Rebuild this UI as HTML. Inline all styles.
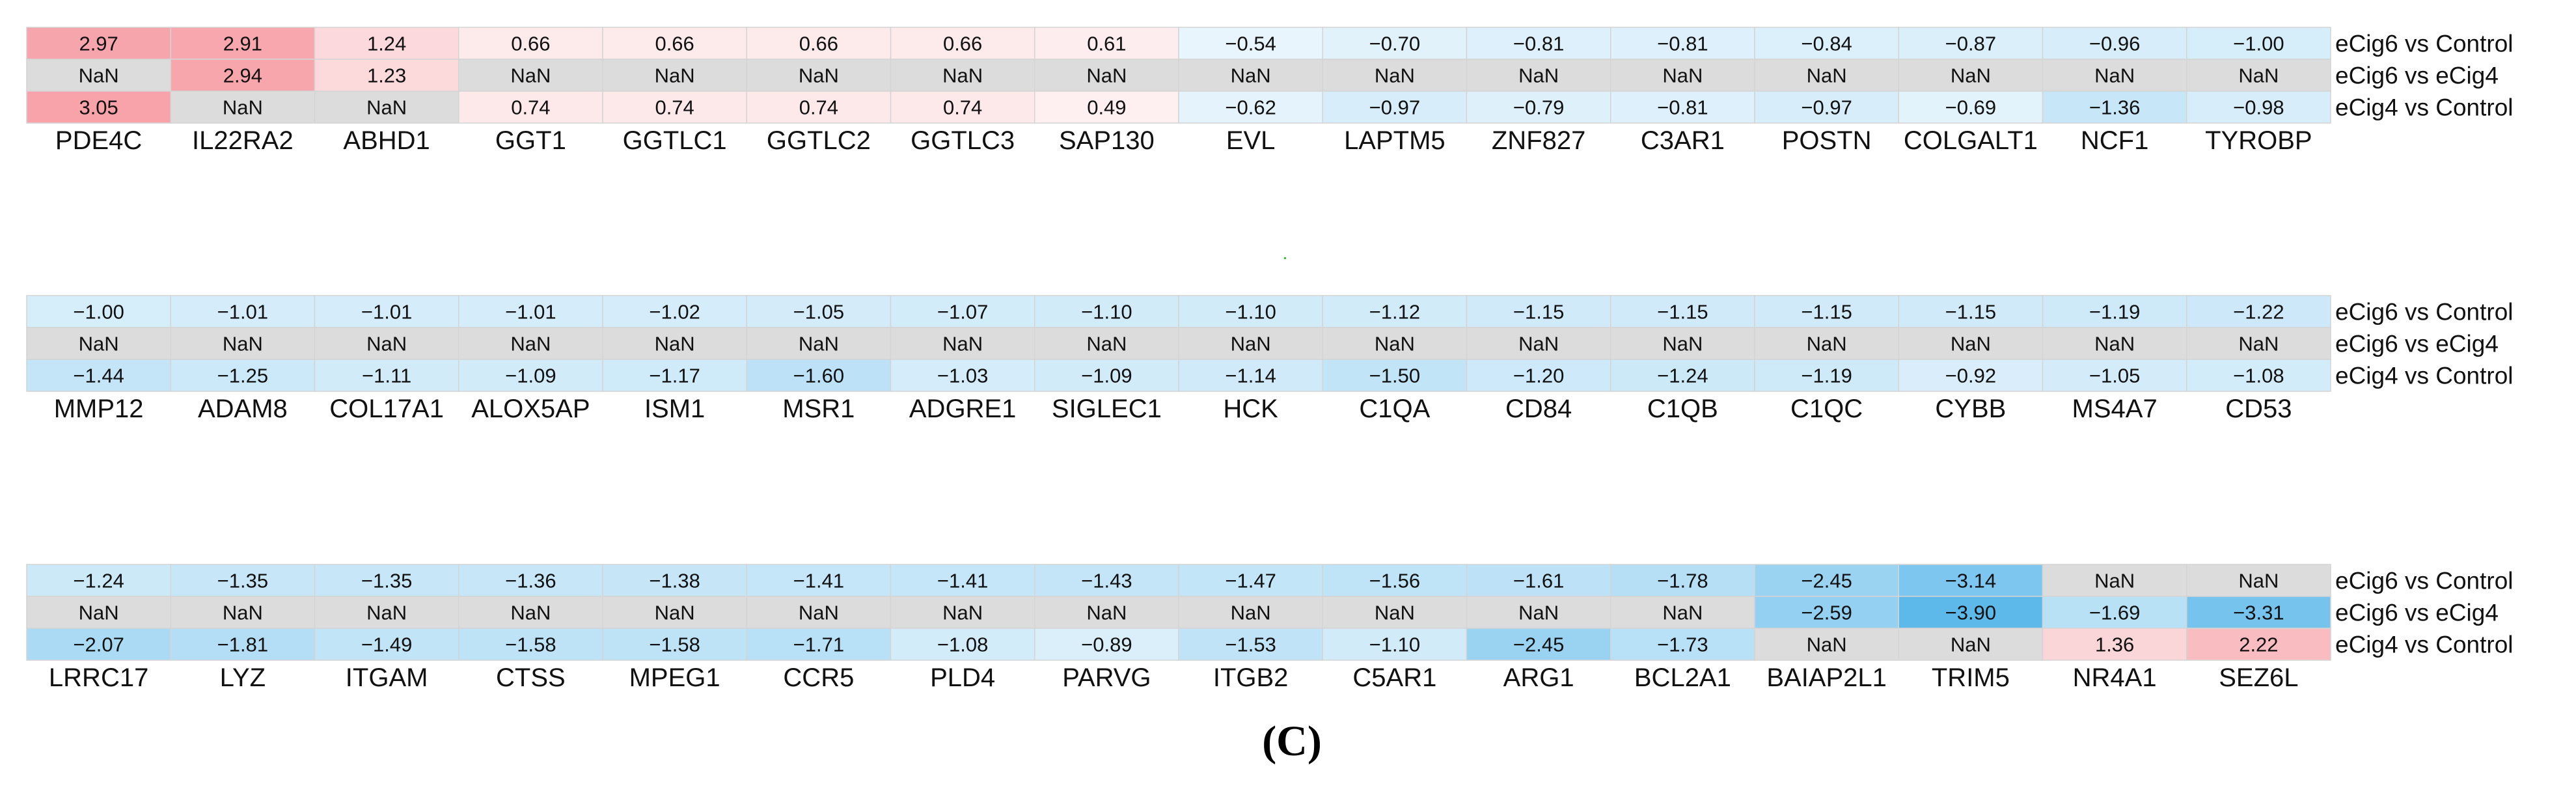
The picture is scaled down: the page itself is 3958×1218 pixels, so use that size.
<!DOCTYPE html>
<html><head><meta charset="utf-8"><style>
html,body{margin:0;padding:0;background:#fff;}
svg{display:block;}
</style></head><body>
<svg id="chart" width="3958" height="1218" viewBox="0 0 3958 1218" xmlns="http://www.w3.org/2000/svg">
<text x="1985" y="1160" text-anchor="middle" font-family="Liberation Serif, serif" font-size="66" font-weight="bold">(C)</text>
<rect x="1973" y="395" width="3" height="3" fill="#3c3"/>
</svg>
<script>
const rowLabels = ["eCig6 vs Control", "eCig6 vs eCig4", "eCig4 vs Control"];
const genes1 = ["PDE4C","IL22RA2","ABHD1","GGT1","GGTLC1","GGTLC2","GGTLC3","SAP130","EVL","LAPTM5","ZNF827","C3AR1","POSTN","COLGALT1","NCF1","TYROBP"];
const b1r1 = [2.97,2.91,1.24,0.66,0.66,0.66,0.66,0.61,-0.54,-0.70,-0.81,-0.81,-0.84,-0.87,-0.96,-1.00];
const b1r2 = [NaN,2.94,1.23,NaN,NaN,NaN,NaN,NaN,NaN,NaN,NaN,NaN,NaN,NaN,NaN,NaN];
const b1r3 = [3.05,NaN,NaN,0.74,0.74,0.74,0.74,0.49,-0.62,-0.97,-0.79,-0.81,-0.97,-0.69,-1.36,-0.98];
const genes2 = ["MMP12","ADAM8","COL17A1","ALOX5AP","ISM1","MSR1","ADGRE1","SIGLEC1","HCK","C1QA","CD84","C1QB","C1QC","CYBB","MS4A7","CD53"];
const b2r1 = [-1.00,-1.01,-1.01,-1.01,-1.02,-1.05,-1.07,-1.10,-1.10,-1.12,-1.15,-1.15,-1.15,-1.15,-1.19,-1.22];
const b2r2 = [NaN,NaN,NaN,NaN,NaN,NaN,NaN,NaN,NaN,NaN,NaN,NaN,NaN,NaN,NaN,NaN];
const b2r3 = [-1.44,-1.25,-1.11,-1.09,-1.17,-1.60,-1.03,-1.09,-1.14,-1.50,-1.20,-1.24,-1.19,-0.92,-1.05,-1.08];
const genes3 = ["LRRC17","LYZ","ITGAM","CTSS","MPEG1","CCR5","PLD4","PARVG","ITGB2","C5AR1","ARG1","BCL2A1","BAIAP2L1","TRIM5","NR4A1","SEZ6L"];
const b3r1 = [-1.24,-1.35,-1.35,-1.36,-1.38,-1.41,-1.41,-1.43,-1.47,-1.56,-1.61,-1.78,-2.45,-3.14,NaN,NaN];
const b3r2 = [NaN,NaN,NaN,NaN,NaN,NaN,NaN,NaN,NaN,NaN,NaN,NaN,-2.59,-3.90,-1.69,-3.31];
const b3r3 = [-2.07,-1.81,-1.49,-1.58,-1.58,-1.71,-1.08,-0.89,-1.53,-1.10,-2.45,-1.73,NaN,NaN,1.36,2.22];

const NS = "http://www.w3.org/2000/svg";
const svg = document.getElementById("chart");
const X0 = 41, CW = 221.25, RH = 49;
function xPos(i){ return X0 + i*CW; }
function color(v){
  if (isNaN(v)) return "#dcdcdc";
  let r,g,b,t;
  if (v >= 0){ t = Math.min(v/3.1,1); r=255-t*8; g=255-t*94; b=255-t*87; }
  else { t = Math.min(-v/4,1); r=255-t*165; g=255-t*72; b=255-t*21; }
  return "rgb("+Math.round(r)+","+Math.round(g)+","+Math.round(b)+")";
}
function fmt(v){ if (isNaN(v)) return "NaN"; return (v<0?"\u2212":"")+Math.abs(v).toFixed(2); }
function mk(tag, attrs){ const e=document.createElementNS(NS,tag); for(const k in attrs) e.setAttribute(k,attrs[k]); return e; }

function drawBlock(bi, top, genes, rows){
  const g = mk("g",{});
  
  
  svg.appendChild(g);
  rows.forEach((vals, r)=>{
    const y = top + r*RH;
    vals.forEach((v, i)=>{
      const rect = mk("rect",{x:xPos(i), y:y, width:CW, height:RH, fill:color(v), stroke:"#d4d4d4", "stroke-width":1.5});
      
      
      g.appendChild(rect);
      const t = mk("text",{x:xPos(i)+CW/2, y:y+RH/2+11, "text-anchor":"middle", "font-family":"Liberation Sans, sans-serif", "font-size":31, fill:"#111"});
      t.textContent = fmt(v);
      
      
      g.appendChild(t);
    });
    const lt = mk("text",{x:xPos(16)+7, y:y+RH/2+13, "font-family":"Liberation Sans, sans-serif", "font-size":37, fill:"#111"});
    lt.textContent = rowLabels[r];
    
    
    g.appendChild(lt);
  });
  genes.forEach((name, i)=>{
    const t = mk("text",{x:xPos(i)+CW/2, y:top+3*RH+40, "text-anchor":"middle", "font-family":"Liberation Sans, sans-serif", "font-size":40, fill:"#111"});
    t.textContent = name;
    
    
    g.appendChild(t);
  });
}
drawBlock(0, 42, genes1, [b1r1,b1r2,b1r3]);
drawBlock(1, 454, genes2, [b2r1,b2r2,b2r3]);
drawBlock(2, 867, genes3, [b3r1,b3r2,b3r3]);
</script>
</body></html>
